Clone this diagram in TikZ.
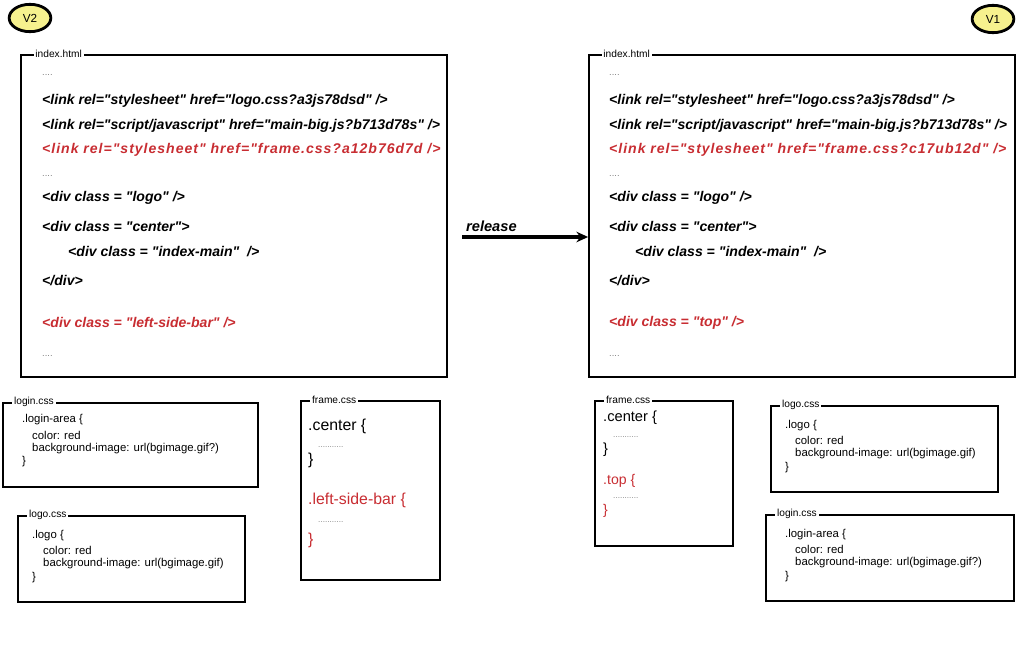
\documentclass[tikz,border=0pt]{standalone}
\usepackage{fontspec}
\setmainfont{Liberation Sans}
\newfontfamily\codefont{Liberation Sans}
\usepackage{xcolor}
\usetikzlibrary{positioning, arrows.meta, shapes.geometric}
\definecolor{codered}{RGB}{200,45,50}
\definecolor{badgeyellow}{RGB}{246,241,142}

\begin{document}
\begin{tikzpicture}[
    x=0.03cm, y=-0.03cm,
    filebox/.style={draw, line width=1.5pt, inner sep=0pt},
    filetitle/.style={anchor=west, fill=white, inner sep=1.5pt, font=\fontsize{8.7}{10}\selectfont},
    htmlcode/.style={anchor=west, inner sep=0pt, font=\codefont\fontsize{12}{14}\selectfont\bfseries\itshape},
    widecode/.style={htmlcode, codered, font=\codefont\fontsize{12}{14}\selectfont\bfseries\itshape\addfontfeature{LetterSpace=7}},
    csscode/.style={anchor=west, inner sep=0pt, font=\codefont\fontsize{9.7}{11}\selectfont},
    framecode/.style={anchor=west, inner sep=0pt, font=\codefont\fontsize{13.5}{15}\selectfont},
    dots/.style={anchor=west, inner sep=0pt, font=\footnotesize, gray},
    fdots/.style={anchor=west, inner sep=0pt, font=\scriptsize, gray},
    badge/.style={draw, ellipse, fill=badgeyellow, line width=2.4pt, minimum width=1.25cm, minimum height=0.82cm, inner sep=0pt, font=\fontsize{10}{11}\selectfont},
    relarrow/.style={-{Stealth[length=10pt, width=9pt]}, line width=2.8pt}
]
\useasboundingbox (0,0) rectangle (1024,646);

% ---- Version badges ----
\node[badge] (vtwo) at (30,18) {V2};
\node[badge] (vone) at (993,19) {V1};

% ---- index.html boxes ----
\node[filebox, minimum width=12.78cm, minimum height=9.66cm] (lindex) at (234,216) {};
\node[filebox, minimum width=12.78cm, minimum height=9.66cm] (rindex) at (802,216) {};
\node[filetitle] (lindextitle) at ([xshift=0.4cm]lindex.north west) {index.html};
\node[filetitle] (rindextitle) at ([xshift=0.4cm]rindex.north west) {index.html};

% lines both versions share
\foreach \s/\xl in {l/42, r/609} {
    \node[dots]     (\s dotsA)  at (\xl, 75)  {....};
    \node[htmlcode] (\s linkA)  at (\xl,101)  {<link rel="stylesheet" href="logo.css?a3js78dsd" />};
    \node[htmlcode] (\s linkB)  at (\xl,126)  {<link rel="script/javascript" href="main-big.js?b713d78s" />};
    \node[dots]     (\s dotsB)  at (\xl,176)  {....};
    \node[htmlcode] (\s divA)   at (\xl,198)  {<div class = "logo" />};
    \node[htmlcode] (\s divB)   at (\xl,226)  {<div class = "center">};
    \node[htmlcode] (\s divC)   at (\xl+26,252) {<div class = "index-main"\ \ />};
    \node[htmlcode] (\s divEnd) at (\xl,281)  {</div>};
    \node[dots]     (\s dotsC)  at (\xl,356)  {....};
}
% lines that changed
\node[widecode] (llinkC) at (42,150)  {<link rel="stylesheet" href="frame.css?a12b76d7d />};
\node[htmlcode, codered] (ldivD)  at (42,323)  {<div class = "left-side-bar" />};
\node[widecode] (rlinkC) at (609,150) {<link rel="stylesheet" href="frame.css?c17ub12d" />};
\node[htmlcode, codered] (rdivD)  at (609,323) {<div class = "top" />};

% ---- Release arrow ----
\coordinate (relstart) at (462,237);
\draw[relarrow] (relstart) -- (rindex.west |- relstart)
    node[pos=0.02, above=3pt, anchor=south west, inner sep=0pt, font=\codefont\fontsize{12.5}{14}\selectfont\bfseries\itshape] (rellabel) {release};

% ---- V2 css files ----
\node[filebox, minimum width=7.65cm, minimum height=2.52cm] (llogin) at (130.5,445) {};
\node[filetitle] (llogintitle) at ([xshift=0.3cm]llogin.north west) {login.css};
\node[csscode] (lloginA) at (22,420) {.login-area \{};
\node[csscode] (lloginB) at (32,435) {color: red};
\node[csscode] (lloginC) at (32,449) {background-image: url(bgimage.gif?)};
\node[csscode] (lloginD) at (22,462) {\}};

\node[filebox, minimum width=6.81cm, minimum height=2.58cm] (llogo) at (131.5,559) {};
\node[filetitle] (llogotitle) at ([xshift=0.3cm]llogo.north west) {logo.css};
\node[csscode] (llogoA) at (32,536) {.logo \{};
\node[csscode] (llogoB) at (43,550) {color: red};
\node[csscode] (llogoC) at (43,564) {background-image: url(bgimage.gif)};
\node[csscode] (llogoD) at (32,578) {\}};

\node[filebox, minimum width=4.17cm, minimum height=5.37cm] (lframe) at (370.5,490.5) {};
\node[filetitle] (lframetitle) at ([xshift=0.3cm]lframe.north west) {frame.css};
\node[framecode] (lframeA) at (308,426) {.center \{};
\node[fdots]     (lframeB) at (318,447) {...........};
\node[framecode] (lframeC) at (308,460) {\}};
\node[framecode, codered] (lframeD) at (308,500) {.left-side-bar \{};
\node[fdots]     (lframeE) at (318,522) {...........};
\node[framecode, codered] (lframeF) at (308,540) {\}};

% ---- V1 css files ----
\node[filebox, minimum width=4.14cm, minimum height=4.35cm] (rframe) at (664,473.5) {};
\node[filetitle] (rframetitle) at ([xshift=0.3cm]rframe.north west) {frame.css};
\node[framecode, font=\codefont\fontsize{12.5}{14}\selectfont] (rframeA) at (603,418) {.center \{};
\node[fdots]     (rframeB) at (613,437) {...........};
\node[framecode, font=\codefont\fontsize{12.5}{14}\selectfont] (rframeC) at (603,450) {\}};
\node[framecode, codered, font=\codefont\fontsize{12}{14}\selectfont] (rframeD) at (603,481) {.top \{};
\node[fdots]     (rframeE) at (613,498) {...........};
\node[framecode, codered, font=\codefont\fontsize{12}{14}\selectfont] (rframeF) at (603,511) {\}};

\node[filebox, minimum width=6.81cm, minimum height=2.58cm] (rlogo) at (884.5,449) {};
\node[filetitle] (rlogotitle) at ([xshift=0.3cm]rlogo.north west) {logo.css};
\node[csscode] (rlogoA) at (785,426) {.logo \{};
\node[csscode] (rlogoB) at (795,440) {color: red};
\node[csscode] (rlogoC) at (795,454) {background-image: url(bgimage.gif)};
\node[csscode] (rlogoD) at (785,468) {\}};

\node[filebox, minimum width=7.44cm, minimum height=2.58cm] (rlogin) at (890,558) {};
\node[filetitle] (rlogintitle) at ([xshift=0.3cm]rlogin.north west) {login.css};
\node[csscode] (rloginA) at (785,535) {.login-area \{};
\node[csscode] (rloginB) at (795,549) {color: red};
\node[csscode] (rloginC) at (795,563) {background-image: url(bgimage.gif?)};
\node[csscode] (rloginD) at (785,577) {\}};

\end{tikzpicture}
\end{document}
